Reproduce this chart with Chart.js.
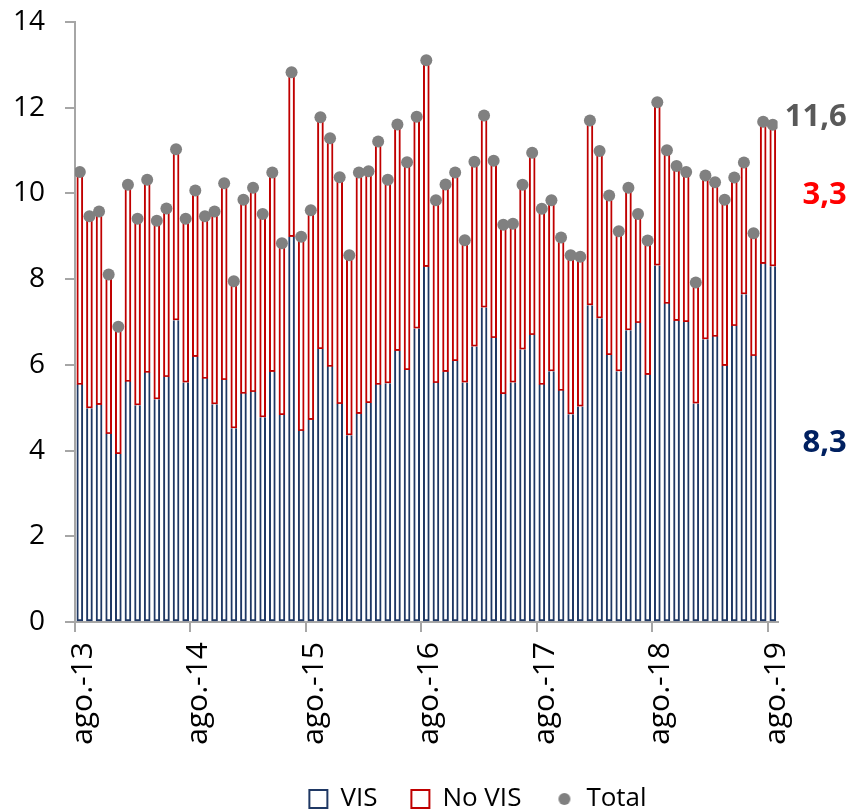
<!DOCTYPE html>
<html>
<head>
<meta charset="utf-8">
<script src="https://cdn.jsdelivr.net/npm/chart.js@4.4.0/dist/chart.umd.min.js"></script>
<style>
  html, body { margin: 0; padding: 0; background: #fff; }
  #wrap { width: 852px; height: 809px; }
</style>
</head>
<body>
<div id="wrap"><canvas id="chart"></canvas></div>
<script>
// Meses: ago-13 ... ago-19
const monthNames = ['ene.', 'feb.', 'mar.', 'abr.', 'may.', 'jun.', 'jul.', 'ago.', 'sep.', 'oct.', 'nov.', 'dic.'];
const categories = [];
for (let k = 0; k < 73; k++) {
    categories.push(monthNames[(7 + k) % 12] + '-' + (13 + Math.floor((7 + k) / 12)));
}
const tickLabels = ['ago.-13', 'ago.-14', 'ago.-15', 'ago.-16', 'ago.-17', 'ago.-18', 'ago.-19'];
const yTicks = [0, 2, 4, 6, 8, 10, 12, 14];

const vis = [
    5.54, 4.99, 5.07, 4.39, 3.92, 5.61, 5.06, 5.82, 5.20, 5.72, 7.04, 5.59,
    6.19, 5.68, 5.08, 5.65, 4.52, 5.33, 5.37, 4.78, 5.84, 4.83, 8.99, 4.46,
    4.72, 6.37, 5.96, 5.09, 4.36, 4.86, 5.11, 5.54, 5.57, 6.33, 5.88, 6.85,
    8.29, 5.58, 5.84, 6.09, 5.59, 6.43, 7.34, 6.63, 5.32, 5.59, 6.36, 6.70,
    5.54, 5.85, 5.40, 4.85, 5.03, 7.39, 7.09, 6.23, 5.85, 6.81, 6.98, 5.77,
    8.32, 7.43, 7.03, 7.00, 5.10, 6.60, 6.66, 5.98, 6.91, 7.65, 6.21, 8.36,
    8.3
];
const noVis = [
    4.96, 4.48, 4.51, 3.72, 2.97, 4.59, 4.35, 4.50, 4.16, 3.93, 3.99, 3.82,
    3.88, 3.79, 4.50, 4.59, 3.43, 4.52, 4.76, 4.74, 4.65, 4.01, 3.84, 4.53,
    4.89, 5.41, 5.33, 5.29, 4.20, 5.63, 5.41, 5.67, 4.75, 5.28, 4.85, 4.94,
    4.82, 4.26, 4.37, 4.40, 3.32, 4.31, 4.48, 4.13, 3.95, 3.70, 3.84, 4.25,
    4.10, 3.99, 3.57, 3.71, 3.49, 4.31, 3.90, 3.72, 3.27, 3.32, 2.54, 3.13,
    3.81, 3.58, 3.61, 3.50, 2.82, 3.82, 3.60, 3.87, 3.46, 3.07, 2.86, 3.31,
    3.3
];
const total = [
    10.50, 9.47, 9.58, 8.11, 6.89, 10.20, 9.41, 10.32, 9.36, 9.65, 11.03, 9.41,
    10.07, 9.47, 9.58, 10.24, 7.95, 9.85, 10.13, 9.52, 10.49, 8.84, 12.83, 8.99,
    9.61, 11.78, 11.29, 10.38, 8.56, 10.49, 10.52, 11.21, 10.32, 11.61, 10.73, 11.79,
    13.11, 9.84, 10.21, 10.49, 8.91, 10.74, 11.82, 10.76, 9.27, 9.29, 10.20, 10.95,
    9.64, 9.84, 8.97, 8.56, 8.52, 11.70, 10.99, 9.95, 9.12, 10.13, 9.52, 8.90,
    12.13, 11.01, 10.64, 10.50, 7.92, 10.42, 10.26, 9.85, 10.37, 10.72, 9.07, 11.67,
    11.6
];
const lastLabels = ['8,3', '3,3', '11,6'];

const COLORS = {
    vis: '#1f3864',
    noVis: '#c00000',
    total: '#808080',
    axis: '#a6a6a6'
};

// cada mes ocupa una unidad del eje x; la barra va en el centro
const toPoints = (arr) => arr.map((v, i) => ({ x: i + 0.5, y: v }));
const yearTicks = tickLabels.map(l => categories.indexOf(l));

// punto gris para la leyenda
const legendDot = document.createElement('canvas');
legendDot.width = 14;
legendDot.height = 14;
(function () {
    const c = legendDot.getContext('2d');
    c.fillStyle = COLORS.total;
    c.beginPath();
    c.arc(7, 7, 6, 0, Math.PI * 2);
    c.fill();
})();

// etiquetas del último dato, a la derecha
const endLabels = {
    id: 'endLabels',
    afterDatasetsDraw(chart) {
        const ctx = chart.ctx;
        const last = categories.length - 1;
        const visBar = chart.getDatasetMeta(0).data[last];
        const noVisBar = chart.getDatasetMeta(1).data[last];
        const dot = chart.getDatasetMeta(2).data[last];
        const right = visBar.x + 74;
        ctx.save();
        ctx.font = 'bold 31px "Open Sans"';
        ctx.textAlign = 'right';
        ctx.textBaseline = 'middle';
        ctx.fillStyle = '#002060';
        ctx.fillText(lastLabels[0], right, (visBar.y + visBar.base) / 2);
        ctx.fillStyle = '#ff0000';
        ctx.fillText(lastLabels[1], right, (noVisBar.y + noVisBar.base) / 2);
        ctx.fillStyle = '#595959';
        ctx.fillText(lastLabels[2], right, dot.y - 8);
        ctx.restore();
    }
};

// mover la leyenda hacia la derecha como en el original
const legendShift = {
    id: 'legendShift',
    afterLayout(chart) {
        const lg = chart.legend;
        const dx = 478 - (lg.left + lg.right) / 2;
        lg.left += dx;
        lg.right += dx;
    }
};

new Chart(document.getElementById('chart'), {
    type: 'bar',
    data: {
        datasets: [{
            label: 'VIS',
            data: toPoints(vis),
            backgroundColor: '#ffffff',
            borderColor: COLORS.vis,
            borderWidth: 2,
            borderSkipped: 'end',
            barThickness: 6,
            order: 1
        }, {
            label: 'No VIS',
            data: toPoints(noVis),
            backgroundColor: '#ffffff',
            borderColor: COLORS.noVis,
            borderWidth: 2,
            borderSkipped: false,
            barThickness: 6,
            order: 1
        }, {
            type: 'line',
            label: 'Total',
            data: toPoints(total),
            showLine: false,
            stack: 'total',
            pointRadius: 6,
            pointBorderWidth: 0,
            backgroundColor: COLORS.total,
            borderColor: COLORS.total,
            order: 0
        }]
    },
    options: {
        responsive: true,
        maintainAspectRatio: false,
        animation: false,
        layout: {
            padding: { left: 0, right: 74.4, top: 22, bottom: -13 }
        },
        scales: {
            x: {
                type: 'linear',
                stacked: true,
                offset: false,
                min: 0,
                max: categories.length,
                afterBuildTicks: (axis) => {
                    axis.ticks = yearTicks.map(v => ({ value: v }));
                },
                afterFit: (axis) => {
                    axis.height = 130;
                    axis.paddingLeft = 0;
                    axis.paddingRight = 0;
                },
                border: { display: true, color: COLORS.axis, width: 2 },
                grid: { display: true, offset: false, drawOnChartArea: false, drawTicks: true, tickLength: 10, color: COLORS.axis, lineWidth: 2 },
                ticks: {
                    autoSkip: false,
                    minRotation: 90,
                    maxRotation: 90,
                    labelOffset: 8,
                    padding: 10,
                    color: '#000',
                    font: { family: '"Open Sans"', size: 30 },
                    callback: (value) => tickLabels[yearTicks.indexOf(value)]
                }
            },
            y: {
                stacked: true,
                min: 0,
                max: 14,
                afterBuildTicks: (axis) => {
                    axis.ticks = yTicks.map(v => ({ value: v }));
                },
                afterFit: (axis) => {
                    axis.width = 75;
                    axis.paddingTop = 0;
                    axis.paddingBottom = 0;
                },
                border: { display: true, color: COLORS.axis, width: 2 },
                grid: { display: true, drawOnChartArea: false, drawTicks: true, tickLength: 10, color: COLORS.axis, lineWidth: 2 },
                ticks: {
                    padding: 20,
                    color: '#000',
                    font: { family: '"Open Sans"', size: 28 }
                }
            }
        },
        plugins: {
            tooltip: { enabled: false },
            legend: {
                position: 'bottom',
                labels: {
                    usePointStyle: true,
                    boxWidth: 18,
                    boxHeight: 18,
                    padding: 34,
                    color: '#000',
                    font: { family: '"Open Sans"', size: 26 },
                    generateLabels(chart) {
                        const items = Chart.defaults.plugins.legend.labels.generateLabels(chart);
                        items.sort((a, b) => a.datasetIndex - b.datasetIndex);
                        items.forEach(it => {
                            if (it.datasetIndex === 2) {
                                it.pointStyle = legendDot;
                            } else {
                                it.pointStyle = 'rect';
                                it.fillStyle = '#ffffff';
                                it.lineWidth = 2;
                            }
                        });
                        return items;
                    }
                }
            }
        }
    },
    plugins: [endLabels, legendShift]
});
</script>
</body>
</html>
